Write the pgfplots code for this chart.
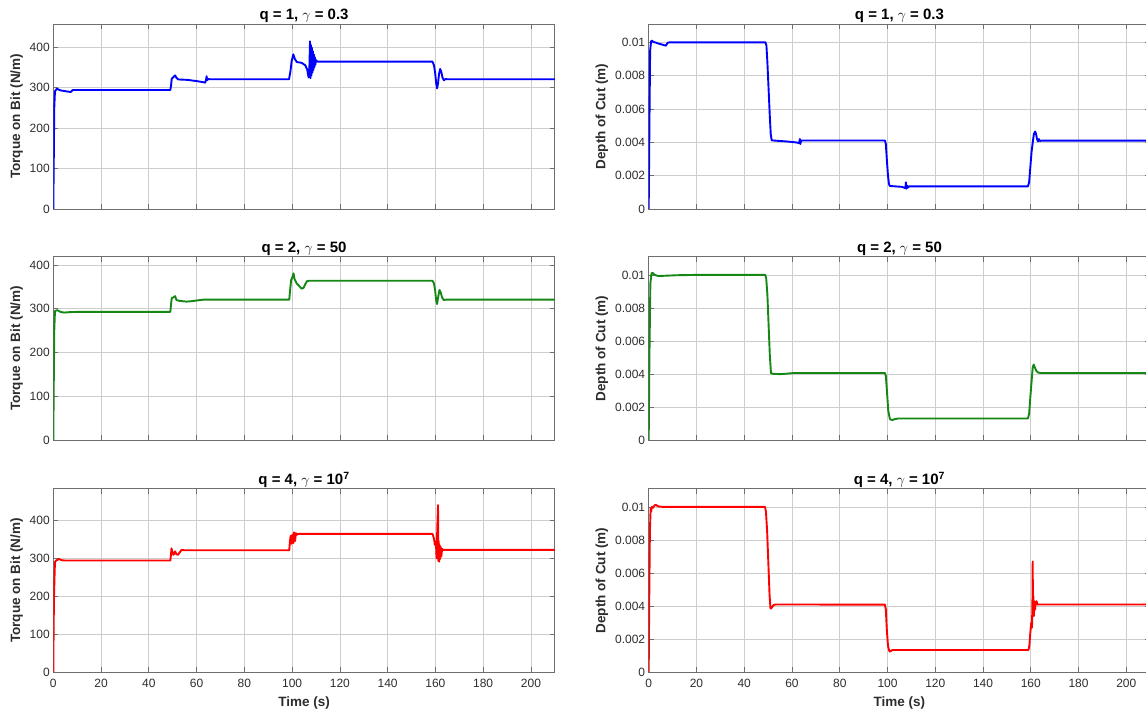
\documentclass[border=0pt]{standalone}
\usepackage{pgfplots}
\pgfplotsset{compat=1.18}
\usepackage{fontspec}
\setmainfont{Liberation Sans}

\definecolor{gridgray}{RGB}{205,205,205}
\definecolor{boxgray}{RGB}{110,110,110}
\definecolor{labelgray}{RGB}{45,45,45}
\definecolor{mblue}{RGB}{0,0,255}
\definecolor{mgreen}{RGB}{20,135,20}
\definecolor{mred}{RGB}{255,0,0}

\pgfplotsset{
  panel/.style={
    scale only axis, width=501.5pt,
    xmin=0, xmax=210, ymin=0,
    xtick={0,20,...,200},
    scaled ticks=false,
    grid=major,
    major grid style={draw=gridgray, line width=0.7pt},
    axis line style={draw=boxgray, line width=0.7pt},
    every tick/.style={draw=boxgray, line width=0.7pt},
    tick align=inside, major tick length=5pt,
    tick pos=both,
    ticklabel style={font=\fontsize{12}{14}\selectfont, text=labelgray},
    /pgf/number format/assume math mode=true,
    title style={font=\fontsize{15}{17}\selectfont\bfseries, text=black, yshift=-8.5pt},
    label style={font=\fontsize{13.5}{16}\selectfont\bfseries, text=labelgray},
    xticklabel style={yshift=-3pt},
    xlabel style={yshift=-3pt},
    no marks,
    every axis plot/.append style={line width=1.9pt, line join=round},
  },
  nox/.style={xticklabels={}},
  torque/.style={panel, ytick={0,100,200,300,400}, ylabel={Torque on Bit (N/m)}},
  depth/.style={panel, ymax=0.0111,
    ytick={0,0.002,0.004,0.006,0.008,0.01},
    yticklabels={0,0.002,0.004,0.006,0.008,0.01},
    ylabel={Depth of Cut (m)}},
}

\begin{document}
\begin{tikzpicture}
\useasboundingbox (0pt,0pt) rectangle (1146pt,712pt);
\clip (0pt,0pt) rectangle (1146pt,712pt);

% ---------- q = 1, gamma = 0.3 ----------
\begin{axis}[torque, nox, at={(53.3pt,503pt)}, height=185pt, ymax=457,
  title={q = 1, \textmd{$\gamma$} = 0.3}]
\addplot[mblue] coordinates {
(0,0)(0.2,120)(0.4,250)(0.7,291)(1.5,297)(3,293)(5,291)(7.3,289)(7.8,292)(8.2,294)
(49,294)(49.3,305)(49.6,322)(50.3,326)(51,330)(51.6,324)(52.3,320)(56,319)(60,316)
(63,313)(63.6,312)(64,320)(64.2,328)(64.4,318)(64.8,321)(65.5,320.5)(98.7,320.5)
(99.3,340)(99.8,365)(100.5,382)(101.2,370)(102,363)(104,361)(105.5,355)(106.3,345)
(106.9,325)(107.2,340)(107.5,414)(107.7,323)(107.9,405)(108.1,330)(108.3,398)
(108.5,337)(108.7,390)(108.9,343)(109.1,382)(109.3,350)(109.5,375)(109.7,356)
(110,368)(110.5,364)(158.8,364)(159.4,355)(159.9,336)(160.3,312)(160.7,298)
(161.1,310)(161.5,333)(162,346)(162.5,338)(163,324)(163.6,318)(164.2,321)
(165,320.5)(210,320.5)};
\end{axis}

\begin{axis}[depth, nox, at={(648.7pt,503pt)}, height=185pt,
  title={q = 1, \textmd{$\gamma$} = 0.3}]
\addplot[mblue] coordinates {
(0,0)(0.3,0.005)(0.6,0.0095)(1,0.01006)(1.3,0.0101)(2,0.01003)(4,0.00993)(6,0.00985)
(7.2,0.0098)(7.6,0.0099)(8,0.00998)(9,0.01)(48.9,0.01)(49.3,0.0098)(49.7,0.0088)
(50.2,0.0072)(50.7,0.0056)(51.1,0.0045)(51.5,0.00412)(53,0.0041)(58,0.00405)
(62,0.00399)(63,0.00395)(63.3,0.0042)(63.5,0.0039)(63.8,0.0041)(64.5,0.00411)
(98.9,0.00411)(99.3,0.0039)(99.7,0.0030)(100.2,0.0020)(100.6,0.0015)(101,0.00138)
(103,0.00136)(106,0.00133)(107.5,0.00125)(107.7,0.0016)(107.9,0.00122)(108.2,0.0014)
(108.5,0.00128)(109,0.00136)(158.8,0.00136)(159.3,0.0016)(159.8,0.0025)(160.3,0.0034)
(160.9,0.0041)(161.3,0.0045)(161.8,0.00465)(162.2,0.0045)(162.6,0.0042)(163,0.00405)
(163.4,0.0042)(163.8,0.00408)(164.5,0.0041)(210,0.0041)};
\end{axis}

% ---------- q = 2, gamma = 50 ----------
\begin{axis}[torque, nox, at={(53.3pt,271.7pt)}, height=183.6pt, ymax=419,
  title={q = 2, \textmd{$\gamma$} = 50}]
\addplot[mgreen] coordinates {
(0,0)(0.2,130)(0.4,250)(0.7,295)(1.7,297)(3,293)(4.5,291.5)(7,292.5)(10,293)
(49,293)(49.3,310)(49.6,325)(50.3,326)(51,329)(51.6,320)(53,318)(55.8,316.5)
(58,317.5)(61.4,320)(63,321)(98.8,321)(99.2,345)(99.6,366)(100.1,372)(100.6,381)
(101,368)(101.9,358)(103,352)(104,346)(104.8,348)(105.5,356)(106.2,363)(107,364)
(158.8,364)(159.4,358)(159.9,342)(160.3,320)(160.7,311)(161.1,325)(161.7,343)
(162.2,338)(162.8,326)(163.5,320)(164.5,321)(210,321)};
\end{axis}

\begin{axis}[depth, nox, at={(648.7pt,271.7pt)}, height=183.6pt,
  title={q = 2, \textmd{$\gamma$} = 50}]
\addplot[mgreen] coordinates {
(0,0)(0.3,0.005)(0.7,0.0095)(1.2,0.0101)(1.7,0.01012)(2.5,0.01)(4,0.00993)(7,0.00995)
(12,0.00998)(20,0.01)(48.8,0.01)(49.2,0.0098)(49.7,0.0088)(50.2,0.0070)(50.7,0.0052)
(51.2,0.00405)(52,0.00402)(55,0.004)(58,0.00403)(61,0.00407)(98.9,0.00407)
(99.3,0.0039)(99.8,0.0029)(100.3,0.0018)(101,0.00128)(102,0.00122)(103,0.00128)
(104.5,0.00132)(158.8,0.00132)(159.3,0.0016)(159.8,0.0026)(160.4,0.0037)(160.8,0.0044)
(161.2,0.00458)(161.7,0.0044)(162.3,0.0042)(163,0.0041)(164,0.00407)(210,0.00407)};
\end{axis}

% ---------- q = 4, gamma = 10^7 ----------
\begin{axis}[torque, at={(53.3pt,39.7pt)}, height=183.6pt, ymax=483,
  title={q = 4, \textmd{$\gamma$} = 10\textsuperscript{7}}, xlabel={Time (s)}]
\addplot[mred] coordinates {
(0,0)(0.15,120)(0.3,199)(0.5,250)(0.7,290)(1.2,294)(2.4,298)(3.5,295)(5,294)
(49,294)(49.2,305)(49.5,326)(49.8,318)(50.3,309)(51,318)(51.5,311)(52.2,309)(53,316)
(53.7,322)(55,321)(98.8,321)(99.1,345)(99.4,359)(99.8,338)(100.1,362)(100.5,340)
(100.8,368)(101.2,345)(101.6,366)(102,362)(102.5,364)
(158.8,364)(159.4,352)(159.8,335)(160.2,345)(160.5,300)(160.8,380)(161.1,440)
(161.2,293)(161.4,345)(161.6,291)(161.8,335)(162,298)(162.2,330)(162.5,305)
(162.8,325)(163.3,322)(210,322)};
\end{axis}

\begin{axis}[depth, at={(648.7pt,39.7pt)}, height=183.6pt,
  title={q = 4, \textmd{$\gamma$} = 10\textsuperscript{7}}, xlabel={Time (s)}]
\addplot[mred] coordinates {
(0,0)(0.2,0.004)(0.5,0.0085)(0.8,0.0099)(1.0,0.0097)(1.3,0.01)(1.8,0.00995)(2.5,0.0101)
(3,0.01012)(4,0.01003)(6,0.01)(48.7,0.01)(49.1,0.0097)(49.6,0.0085)(50.1,0.0066)
(50.6,0.0047)(51,0.00385)(51.5,0.0039)(52.2,0.00405)(53,0.0041)(98.9,0.00409)
(99.3,0.0038)(99.7,0.0026)(100.2,0.0016)(100.7,0.0013)(101,0.00125)(101.5,0.0013)
(102,0.00135)(159,0.00135)(159.4,0.0016)(159.8,0.0024)(160.2,0.0030)(160.5,0.0027)
(160.7,0.0045)(160.8,0.0067)(160.9,0.0036)(161.1,0.0046)(161.3,0.0034)(161.5,0.0043)
(161.8,0.0038)(162,0.0042)(162.4,0.0043)(162.8,0.0041)(163.5,0.0041)(210,0.0041)};
\end{axis}
\end{tikzpicture}
\end{document}
